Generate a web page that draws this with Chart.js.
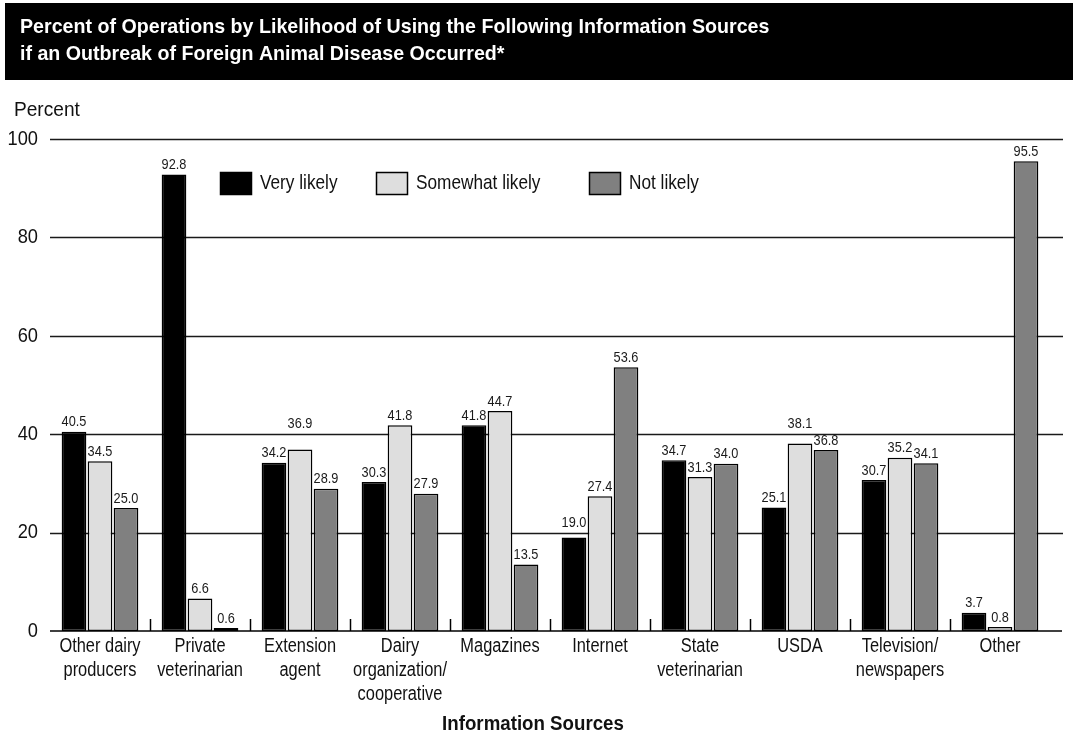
<!DOCTYPE html>
<html>
<head>
<meta charset="utf-8">
<title>Information Sources</title>
<script src="https://cdn.jsdelivr.net/npm/chart.js@4/dist/chart.umd.min.js"></script>
<style>
  html, body { margin: 0; padding: 0; background: #fff; }
  #wrap { width: 1073px; height: 738px; }
</style>
</head>
<body>
<div id="wrap"><canvas id="chart" width="1073" height="738"></canvas></div>
<script>
// Information sources (x-axis categories)
const categories = [
  ['Other dairy', 'producers'],
  ['Private', 'veterinarian'],
  ['Extension', 'agent'],
  ['Dairy', 'organization/', 'cooperative'],
  'Magazines',
  'Internet',
  ['State', 'veterinarian'],
  'USDA',
  ['Television/', 'newspapers'],
  'Other'
];

// Percent of operations per likelihood
const veryLikely     = [40.5, 92.8, 34.2, 30.3, 41.8, 19.0, 34.7, 25.1, 30.7, 3.7];
const somewhatLikely = [34.5, 6.6, 36.9, 41.8, 44.7, 27.4, 31.3, 38.1, 35.2, 0.8];
const notLikely      = [25.0, 0.6, 28.9, 27.9, 13.5, 53.6, 34.0, 36.8, 34.1, 95.5];

const seriesNames = ['Very likely', 'Somewhat likely', 'Not likely'];
const yTicks = [0, 20, 40, 60, 80, 100];

const titleLines = [
  'Percent of Operations by Likelihood of Using the Following Information Sources',
  'if an Outbreak of Foreign Animal Disease Occurred*'
];
const yAxisCaption = 'Percent';
const xAxisCaption = 'Information Sources';

const FONT = "'Liberation Sans', Arial, sans-serif";
const NARROW = 0.82;       // horizontal squeeze for a condensed look
const NARROW_BOLD = 0.935; // bold condensed face runs wider
const INK = '#111';
const fills = ['#000000', '#dedede', '#808080'];

// Draws condensed text: regular face squeezed horizontally around its anchor
function narrowText(ctx, text, x, y, size, opts = {}) {
  ctx.save();
  ctx.font = (opts.bold ? 'bold ' : '') + size + 'px ' + FONT;
  ctx.fillStyle = opts.color || INK;
  ctx.textAlign = opts.align || 'left';
  ctx.textBaseline = opts.baseline || 'middle';
  ctx.translate(x, y);
  ctx.scale(opts.squeeze || (opts.bold ? NARROW_BOLD : NARROW), 1);
  ctx.fillText(text, 0, 0);
  ctx.restore();
}

const decorations = {
  id: 'decorations',
  beforeDatasetsDraw(chart) {
    const ctx = chart.ctx;
    const area = chart.chartArea;
    const y = chart.scales.y;
    const x = chart.scales.x;
    ctx.save();
    // horizontal gridlines at each y tick
    ctx.strokeStyle = '#1a1a1a';
    ctx.lineWidth = 1.3;
    y.ticks.forEach(t => {
      if (t.value === 0) return;
      const py = Math.round(y.getPixelForValue(t.value)) + 0.5;
      ctx.beginPath();
      ctx.moveTo(area.left, py);
      ctx.lineTo(area.right + 13, py);
      ctx.stroke();
    });
    // short separators between categories, rising from the baseline
    ctx.lineWidth = 1.5;
    ctx.strokeStyle = '#000';
    for (let i = 1; i < categories.length; i++) {
      const px = Math.round((x.getPixelForTick(i - 1) + x.getPixelForTick(i)) / 2) + 0.5;
      ctx.beginPath();
      ctx.moveTo(px, area.bottom);
      ctx.lineTo(px, area.bottom - 12);
      ctx.stroke();
    }
    ctx.restore();

    // y tick labels
    y.ticks.forEach(t => {
      narrowText(ctx, String(t.value), area.left - 12, y.getPixelForValue(t.value), 21, { align: 'right', squeeze: 0.87 });
    });
    // x category labels, one line per entry
    categories.forEach((c, i) => {
      const lines = Array.isArray(c) ? c : [c];
      const cx = x.getPixelForTick(i);
      lines.forEach((ln, k) => {
        narrowText(ctx, ln, cx, area.bottom + 15 + k * 24, 20, { align: 'center' });
      });
    });
    // axis captions
    narrowText(ctx, xAxisCaption, (area.left + area.right) / 2 - 17, 724, 20, { align: 'center', bold: true });
    narrowText(ctx, yAxisCaption, 14, 110, 21, { squeeze: 0.91 });
  },
  afterDatasetsDraw(chart) {
    const ctx = chart.ctx;
    const area = chart.chartArea;
    const y = chart.scales.y;
    ctx.save();
    // baseline
    ctx.strokeStyle = '#000';
    ctx.lineWidth = 1.6;
    const by = y.getPixelForValue(0);
    ctx.beginPath();
    ctx.moveTo(area.left, by);
    ctx.lineTo(area.right + 12, by);
    ctx.stroke();
    ctx.restore();

    // value labels above bars
    chart.data.datasets.forEach((ds, di) => {
      const meta = chart.getDatasetMeta(di);
      meta.data.forEach((bar, i) => {
        const v = ds.data[i];
        let cy = bar.y - 9.5;
        // lift a label above a gridline that would otherwise cut through it
        y.ticks.forEach(t => {
          const gp = y.getPixelForValue(t.value);
          const gap = bar.y - gp;
          if (gap > 0 && gap <= 15.5) cy = gp - 10;
        });
        narrowText(ctx, v.toFixed(1), bar.x, cy, 15, { align: 'center', color: '#1a1a1a', squeeze: 0.85 });
      });
    });

    // legend inside the plot
    const legendX = [220, 376, 589];
    const legendY = 172;
    chart.data.datasets.forEach((ds, di) => {
      const lx = legendX[di];
      ctx.save();
      ctx.fillStyle = ds.backgroundColor;
      ctx.fillRect(lx, legendY, 32, 23);
      ctx.strokeStyle = '#000';
      ctx.lineWidth = 1.5;
      ctx.strokeRect(lx + 0.5, legendY + 0.5, 31, 22);
      ctx.restore();
      narrowText(ctx, ds.label, lx + 40, legendY + 11, 21);
    });
  },
  afterDraw(chart) {
    const ctx = chart.ctx;
    ctx.save();
    // header band
    ctx.fillStyle = '#000';
    ctx.fillRect(5, 3, 1068, 77);
    ctx.restore();
    narrowText(ctx, titleLines[0], 20, 33, 21, { bold: true, color: '#fff', baseline: 'alphabetic' });
    narrowText(ctx, titleLines[1], 20, 60, 21, { bold: true, color: '#fff', baseline: 'alphabetic' });
  }
};

new Chart(document.getElementById('chart'), {
  type: 'bar',
  data: {
    labels: categories,
    datasets: [
      { label: seriesNames[0], data: veryLikely, backgroundColor: fills[0] },
      { label: seriesNames[1], data: somewhatLikely, backgroundColor: fills[1] },
      { label: seriesNames[2], data: notLikely, backgroundColor: fills[2] }
    ].map(d => Object.assign(d, {
      borderColor: '#000',
      borderWidth: 1.5,
      borderSkipped: false,
      categoryPercentage: 0.78,
      barPercentage: 0.95
    }))
  },
  options: {
    responsive: false,
    animation: false,
    layout: { padding: { top: 139, right: 23, left: 0, bottom: 0 } },
    plugins: {
      legend: { display: false },
      title: { display: false },
      tooltip: { enabled: false }
    },
    scales: {
      x: {
        grid: { display: false, drawTicks: false },
        border: { display: false },
        ticks: { display: false, autoSkip: false },
        afterFit(s) { s.height = 107; }
      },
      y: {
        min: yTicks[0],
        max: yTicks[yTicks.length - 1],
        afterBuildTicks(s) { s.ticks = yTicks.map(v => ({ value: v })); },
        grid: { display: false, drawTicks: false },
        border: { display: false },
        ticks: { display: false },
        afterFit(s) { s.width = 50; }
      }
    }
  },
  plugins: [decorations]
});
</script>
</body>
</html>
